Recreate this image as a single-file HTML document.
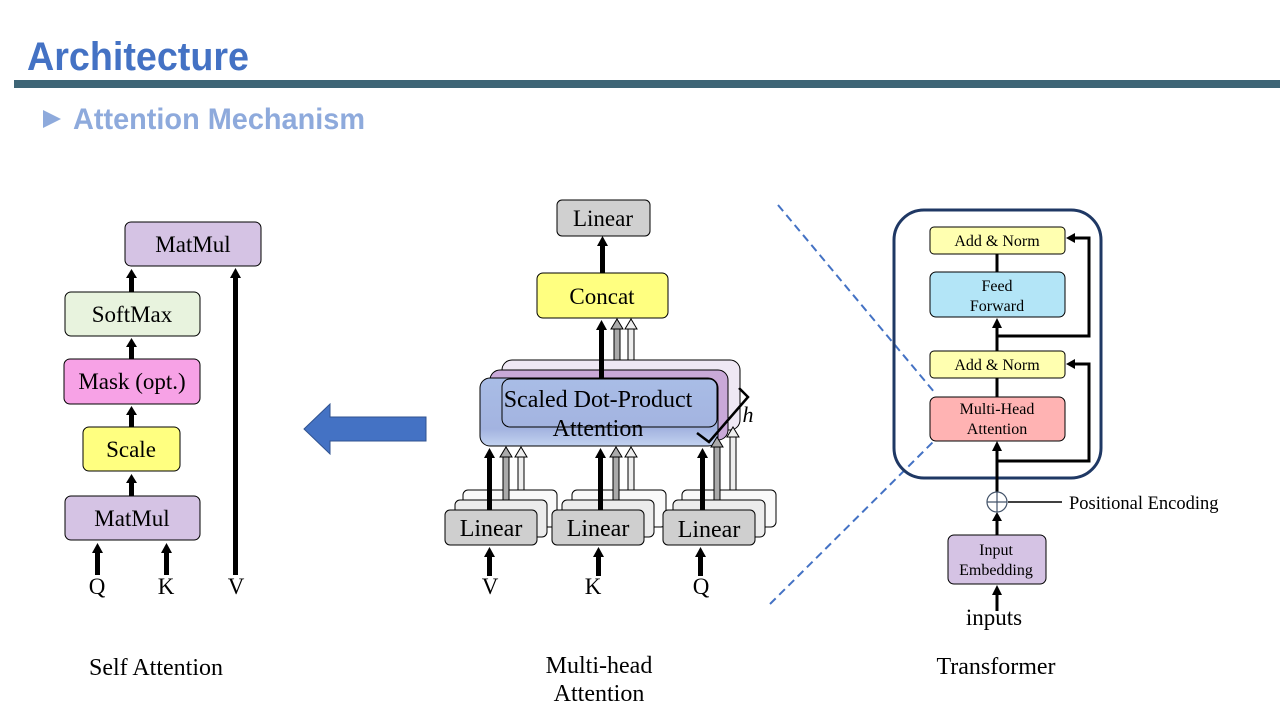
<!DOCTYPE html>
<html><head><meta charset="utf-8"><style>
html,body{margin:0;padding:0;background:#fff;}
svg{display:block;}
text{font-family:"Liberation Serif",serif;}
</style></head><body>
<svg width="1280" height="720" viewBox="0 0 1280 720" xmlns="http://www.w3.org/2000/svg">
<defs>
<linearGradient id="bg" x1="0" y1="0" x2="0" y2="1">
<stop offset="0" stop-color="#a9bde6"/><stop offset="0.75" stop-color="#a3b3e0"/><stop offset="1" stop-color="#c3d3f0"/>
</linearGradient>
</defs>
<!-- header -->
<text x="27" y="70" font-weight="bold" font-size="40" fill="#4472c4" textLength="222" lengthAdjust="spacingAndGlyphs" style="font-family:'Liberation Sans',sans-serif">Architecture</text>
<rect x="14" y="80" width="1266" height="8" fill="#3e6576"/>
<polygon points="43,110 43,128 61,119" fill="#8eaadc"/>
<text x="73" y="129" font-weight="bold" font-size="30" fill="#8eaadc" textLength="292" lengthAdjust="spacingAndGlyphs" style="font-family:'Liberation Sans',sans-serif">Attention Mechanism</text>

<g stroke="#000" stroke-width="1" font-size="23" text-anchor="middle">
<!-- self attention -->
<rect x="125" y="222" width="136" height="44" rx="6" fill="#d5c3e4"/>
<text x="193" y="252" stroke="none">MatMul</text>
<rect x="65" y="292" width="135" height="44" rx="6" fill="#e8f3de"/>
<text x="132" y="322" stroke="none">SoftMax</text>
<rect x="64" y="359" width="136" height="45" rx="6" fill="#f7a2e6"/>
<text x="132" y="389" stroke="none">Mask (opt.)</text>
<rect x="83" y="427" width="97" height="44" rx="6" fill="#ffff80"/>
<text x="131" y="457" stroke="none">Scale</text>
<rect x="65" y="496" width="135" height="44" rx="6" fill="#d5c3e4"/>
<text x="132" y="526" stroke="none">MatMul</text>
</g>
<g fill="#000" stroke="none">
<rect x="129" y="276" width="5" height="16"/><polygon points="126,278 137,278 131.5,269"/>
<rect x="129" y="345" width="5" height="14"/><polygon points="126,347 137,347 131.5,338"/>
<rect x="129" y="413" width="5" height="14"/><polygon points="126,415 137,415 131.5,406"/>
<rect x="129" y="481" width="5" height="15"/><polygon points="126,483 137,483 131.5,474"/>
<rect x="95" y="551" width="5" height="24"/><polygon points="92,553 103,553 97.5,543"/>
<rect x="164" y="551" width="5" height="24"/><polygon points="161,553 172,553 166.5,543"/>
<rect x="233" y="276" width="5" height="299"/><polygon points="230,278 241,278 235.5,268"/>
</g>
<g font-size="23" text-anchor="middle">
<text x="97" y="594">Q</text><text x="166" y="594">K</text><text x="236" y="594">V</text>
<text x="156" y="675" font-size="24">Self Attention</text>
<text x="599" y="673" font-size="24">Multi-head</text><text x="599" y="701" font-size="24">Attention</text>
<text x="996" y="674" font-size="24">Transformer</text>
</g>

<!-- big blue arrow -->
<polygon points="304,429 330,404 330,417 426,417 426,441 330,441 330,454" fill="#4472c4" stroke="#2f528f" stroke-width="1"/>

<!-- multi-head -->
<g stroke="#000" stroke-width="1" font-size="23" text-anchor="middle">
<rect x="557" y="200" width="93" height="36" rx="5" fill="#d0d0d0"/>
<text x="603" y="226" stroke="none">Linear</text>
<rect x="537" y="273" width="131" height="45" rx="6" fill="#ffff80"/>
<text x="602" y="304" stroke="none">Concat</text>
</g>
<g fill="#000"><rect x="600" y="244" width="5" height="29"/><polygon points="597,246 608,246 602.5,236"/></g>
<g stroke="#000" stroke-width="1">
<rect x="614" y="328" width="6" height="32" fill="#aaa"/><polygon points="611,329 623,329 617,319" fill="#aaa"/>
<rect x="628" y="328" width="6" height="32" fill="#eee"/><polygon points="625,329 637,329 631,319" fill="#eee"/>
</g>
<g stroke="#000" stroke-width="1">
<rect x="502" y="360" width="238" height="70" rx="10" fill="#efe8f4"/>
<rect x="490" y="370" width="238" height="70" rx="10" fill="#c9a9d8"/>
<rect x="480" y="378" width="238" height="68" rx="10" fill="url(#bg)"/>
<rect x="502" y="379" width="215" height="48" rx="8" fill="none"/>
</g>
<g fill="#000"><rect x="599" y="328" width="5" height="50"/><polygon points="596,330 607,330 601.5,320"/></g>
<text x="598" y="407" font-size="24" text-anchor="middle">Scaled Dot-Product</text>
<text x="598" y="436" font-size="24" text-anchor="middle">Attention</text>
<polyline points="697,433 709,442 748,397 739,388" fill="none" stroke="#000" stroke-width="2.5"/>
<text x="748" y="422" font-size="22" font-style="italic" text-anchor="middle">h</text>

<!-- linear groups -->
<g stroke="#000" stroke-width="1" font-size="24" text-anchor="middle">
<g>
<rect x="463" y="490" width="94" height="37" rx="5" fill="#fafafa"/>
<rect x="455" y="500" width="92" height="37" rx="5" fill="#ececec"/>
<rect x="445" y="510" width="92" height="35" rx="5" fill="#cfcfcf"/>
<text x="491" y="536" stroke="none">Linear</text>
</g>
<g>
<rect x="572" y="490" width="94" height="37" rx="5" fill="#fafafa"/>
<rect x="562" y="500" width="92" height="37" rx="5" fill="#ececec"/>
<rect x="552" y="510" width="92" height="35" rx="5" fill="#cfcfcf"/>
<text x="598" y="536" stroke="none">Linear</text>
</g>
<g>
<rect x="682" y="490" width="94" height="37" rx="5" fill="#fafafa"/>
<rect x="673" y="500" width="92" height="37" rx="5" fill="#ececec"/>
<rect x="663" y="510" width="92" height="35" rx="5" fill="#cfcfcf"/>
<text x="709" y="537" stroke="none">Linear</text>
</g>
</g>
<g stroke="#000" stroke-width="1">
<rect x="503" y="456" width="6" height="44" fill="#aaa"/><polygon points="500,457 512,457 506,447" fill="#aaa"/>
<rect x="518" y="456" width="6" height="34" fill="#eee"/><polygon points="515,457 527,457 521,447" fill="#eee"/>
<rect x="613" y="456" width="6" height="44" fill="#aaa"/><polygon points="610,457 622,457 616,447" fill="#aaa"/>
<rect x="628" y="456" width="6" height="34" fill="#eee"/><polygon points="625,457 637,457 631,447" fill="#eee"/>
<rect x="714" y="446" width="6" height="54" fill="#aaa"/><polygon points="711,447 723,447 717,437" fill="#aaa"/>
<rect x="730" y="436" width="6" height="54" fill="#eee"/><polygon points="727,437 739,437 733,427" fill="#eee"/>
</g>
<g fill="#000">
<rect x="487" y="456" width="5" height="54"/><polygon points="484,458 495,458 489.5,448"/>
<rect x="598" y="456" width="5" height="54"/><polygon points="595,458 606,458 600.5,448"/>
<rect x="700" y="456" width="5" height="54"/><polygon points="697,458 708,458 702.5,448"/>
<rect x="487" y="555" width="5" height="21"/><polygon points="484,557 495,557 489.5,547"/>
<rect x="596" y="555" width="5" height="21"/><polygon points="593,557 604,557 598.5,547"/>
<rect x="698" y="555" width="5" height="21"/><polygon points="695,557 706,557 700.5,547"/>
</g>
<g font-size="23" text-anchor="middle">
<text x="490" y="594">V</text><text x="593" y="594">K</text><text x="701" y="594">Q</text>
</g>

<line x1="778" y1="205" x2="935" y2="393" stroke="#4472c4" stroke-width="2" stroke-dasharray="8,5"/>
<line x1="770" y1="604" x2="935" y2="440" stroke="#4472c4" stroke-width="2" stroke-dasharray="8,5"/>

<!-- transformer -->
<rect x="894" y="210" width="207" height="268" rx="30" fill="none" stroke="#1f3864" stroke-width="3"/>
<g stroke="#000" stroke-width="1" font-size="16" text-anchor="middle">
<rect x="930" y="227" width="135" height="27" rx="4" fill="#ffffb0"/>
<text x="997" y="246" stroke="none">Add &amp; Norm</text>
<rect x="930" y="272" width="135" height="45" rx="6" fill="#b3e5f7"/>
<text x="997" y="291" stroke="none">Feed</text><text x="997" y="311" stroke="none">Forward</text>
<rect x="930" y="351" width="135" height="27" rx="4" fill="#ffffb0"/>
<text x="997" y="370" stroke="none">Add &amp; Norm</text>
<rect x="930" y="397" width="135" height="44" rx="6" fill="#ffb3b3"/>
<text x="997" y="414" stroke="none">Multi-Head</text><text x="997" y="434" stroke="none">Attention</text>
<rect x="948" y="535" width="98" height="49" rx="6" fill="#d5c3e4"/>
<text x="996" y="555" stroke="none">Input</text><text x="996" y="575" stroke="none">Embedding</text>
</g>
<g stroke="#000" stroke-width="3" fill="none">
<line x1="997" y1="254" x2="997" y2="272"/>
<line x1="997" y1="378" x2="997" y2="397"/>
<line x1="997" y1="351" x2="997" y2="328"/>
<polyline points="997,336 1089,336 1089,238 1075,238"/>
<line x1="997" y1="492" x2="997" y2="450"/>
<polyline points="997,461 1089,461 1089,364 1075,364"/>
<line x1="997" y1="535" x2="997" y2="520"/>
<line x1="997" y1="611" x2="997" y2="594"/>
</g>
<line x1="1008" y1="502" x2="1062" y2="502" stroke="#000" stroke-width="1.5"/>
<g fill="#000">
<polygon points="992,328 1002,328 997,318"/>
<polygon points="992,451 1002,451 997,441"/>
<polygon points="1075,233 1075,243 1066,238"/>
<polygon points="1075,359 1075,369 1066,364"/>
<polygon points="992,521 1002,521 997,512"/>
<polygon points="992,595 1002,595 997,585"/>
</g>
<circle cx="997" cy="502" r="10" fill="#fff" stroke="#44546a" stroke-width="1.2"/>
<line x1="987" y1="502" x2="1007" y2="502" stroke="#44546a" stroke-width="1.2"/>
<line x1="997" y1="492" x2="997" y2="512" stroke="#44546a" stroke-width="1.2"/>
<text x="1069" y="509" font-size="18.5">Positional Encoding</text>
<text x="994" y="625" font-size="23" text-anchor="middle">inputs</text>
</svg>
</body></html>
